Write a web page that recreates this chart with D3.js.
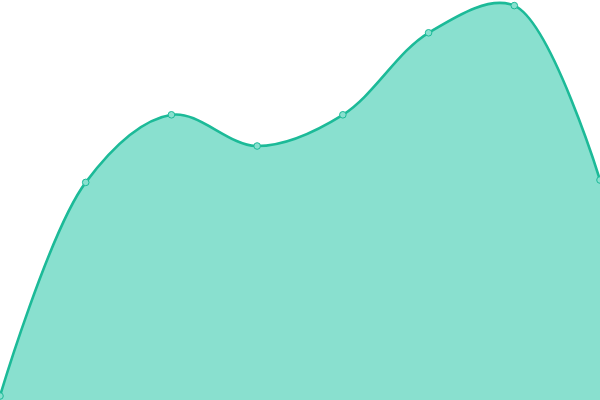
<!DOCTYPE html>
<html>
<head>
<meta charset="utf-8">
<script src="https://cdn.jsdelivr.net/npm/d3@7"></script>
<style>
  body { margin: 0; background: #fff; }
  svg { display: block; }
</style>
</head>
<body>
<script>
var width = 600, height = 400;

// one value per step along x
var steps = [0, 1, 2, 3, 4, 5, 6, 7];
var values = [1, 54.4, 71.3, 63.5, 71.3, 91.8, 98.6, 55];

var svg = d3.select('body')
  .append('svg')
  .attr('width', width)
  .attr('height', height);

var x = d3.scaleLinear().domain([0, 7]).range([0, width]);
var y = d3.scaleLinear().domain([0, 100]).range([height, 0]);

var data = steps.map(function(s, i) { return { s: s, v: values[i] }; });

var curve = d3.curveCatmullRom;

// Area
svg.append('path')
  .datum(data)
  .attr('fill', '#89e0cf')
  .attr('d', d3.area()
    .x(function(d) { return x(d.s); })
    .y0(height)
    .y1(function(d) { return y(d.v); })
    .curve(curve));

// Line
svg.append('path')
  .datum(data)
  .attr('fill', 'none')
  .attr('stroke', '#1cba98')
  .attr('stroke-width', 2.6)
  .attr('d', d3.line()
    .x(function(d) { return x(d.s); })
    .y(function(d) { return y(d.v); })
    .curve(curve));

// Points
svg.selectAll('circle')
  .data(data)
  .enter().append('circle')
  .attr('cx', function(d) { return x(d.s); })
  .attr('cy', function(d) { return y(d.v); })
  .attr('r', 3.3)
  .attr('fill', '#89e0cf')
  .attr('stroke', '#1cba98')
  .attr('stroke-width', 1);
</script>
</body>
</html>
